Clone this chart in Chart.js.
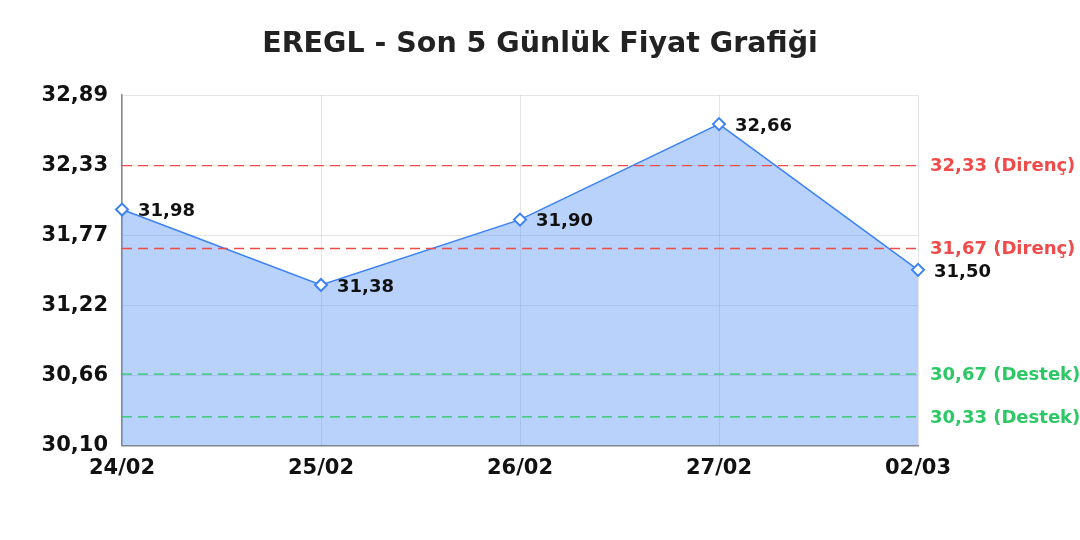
<!DOCTYPE html>
<html>
<head>
<meta charset="utf-8">
<script src="https://cdn.jsdelivr.net/npm/chart.js@4.4.1/dist/chart.umd.min.js"></script>
<style>
  html, body { margin: 0; padding: 0; background: #fff; }
  #wrap { width: 1080px; height: 540px; }
</style>
</head>
<body>
<div id="wrap"><canvas id="price-chart"></canvas></div>
<script>
// Data
var categories = ['24/02', '25/02', '26/02', '27/02', '02/03'];
var prices = [31.98, 31.38, 31.90, 32.66, 31.50];
var yTickValues = [30.10, 30.66, 31.22, 31.77, 32.33, 32.89];
var resistanceLevels = [32.33, 31.67];
var supportLevels = [30.67, 30.33];

function fmt(v) {
    return v.toFixed(2).replace('.', ',');
}

var FONT = "'DejaVu Sans', sans-serif";

// Draws value labels next to points and the support / resistance lines
var levelsPlugin = {
    id: 'levels',
    afterDatasetsDraw: function (chart) {
        var ctx = chart.ctx;
        var area = chart.chartArea;
        var y = chart.scales.y;

        function drawLevel(value, color, label) {
            var py = y.getPixelForValue(value);
            ctx.save();
            ctx.strokeStyle = color;
            ctx.lineWidth = 1.3;
            ctx.setLineDash([10, 6]);
            ctx.beginPath();
            ctx.moveTo(area.left, py);
            ctx.lineTo(area.right, py);
            ctx.stroke();
            ctx.setLineDash([]);
            ctx.fillStyle = color;
            ctx.font = 'bold 18px ' + FONT;
            ctx.textAlign = 'left';
            ctx.textBaseline = 'middle';
            ctx.fillText(fmt(value) + ' ' + label, area.right + 12, py + 1);
            ctx.restore();
        }

        resistanceLevels.forEach(function (v) { drawLevel(v, '#ef4b4b', '(Direnç)'); });
        supportLevels.forEach(function (v) { drawLevel(v, '#2bc865', '(Destek)'); });

        // point value labels
        var meta = chart.getDatasetMeta(0);
        ctx.save();
        ctx.fillStyle = '#111';
        ctx.font = 'bold 18px ' + FONT;
        ctx.textAlign = 'left';
        ctx.textBaseline = 'middle';
        meta.data.forEach(function (pt, i) {
            ctx.fillText(fmt(prices[i]), pt.x + 16, pt.y + 2);
        });
        ctx.restore();
    }
};

var ctx = document.getElementById('price-chart');

var chartData = {
    labels: categories,
    datasets: [{
        label: 'EREGL',
        data: prices,
        borderColor: '#3b82f6',
        backgroundColor: 'rgba(59, 130, 246, 0.36)',
        borderWidth: 1.5,
        fill: 'start',
        tension: 0,
        pointStyle: 'rectRot',
        pointRadius: 6,
        pointBorderWidth: 2,
        pointBackgroundColor: '#ffffff',
        pointBorderColor: '#3b82f6'
    }]
};

var chartOptions = {
    responsive: true,
    maintainAspectRatio: false,
    animation: false,
    layout: {
        padding: { left: 0, right: 0, top: 0, bottom: 49 }
    },
    plugins: {
        legend: { display: false },
        tooltip: { enabled: false },
        title: {
            display: true,
            text: 'EREGL - Son 5 Günlük Fiyat Grafiği',
            color: '#222',
            font: { family: FONT, size: 28.5, weight: 'bold' },
            padding: { top: 27, bottom: 34 }
        }
    },
    scales: {
        x: {
            offset: false,
            grid: { color: 'rgba(0,0,0,0.1)', drawTicks: false },
            border: { color: '#888', width: 1.5 },
            ticks: {
                color: '#111',
                padding: 10,
                maxRotation: 0,
                font: { family: FONT, size: 21, weight: 'bold' }
            }
        },
        y: {
            min: yTickValues[0],
            max: yTickValues[yTickValues.length - 1],
            afterBuildTicks: function (scale) {
                scale.ticks = yTickValues.map(function (v) { return { value: v }; });
            },
            afterFit: function (scale) { scale.width = 122; },
            grid: { color: 'rgba(0,0,0,0.1)', drawTicks: false },
            border: { color: '#888', width: 1.5 },
            ticks: {
                color: '#111',
                padding: 14,
                font: { family: FONT, size: 21, weight: 'bold' },
                callback: function (v) { return fmt(v); }
            }
        },
        // empty right axis, only reserves room for the level labels
        yRight: {
            position: 'right',
            min: yTickValues[0],
            max: yTickValues[yTickValues.length - 1],
            afterFit: function (scale) { scale.width = 162; },
            grid: { display: false, drawTicks: false },
            border: { display: false },
            ticks: { display: false }
        }
    }
};

var config = {
    type: 'line',
    options: chartOptions,
    data: chartData,
    plugins: [levelsPlugin]
};

var priceChart = new Chart(ctx, config);
</script>
</body>
</html>
